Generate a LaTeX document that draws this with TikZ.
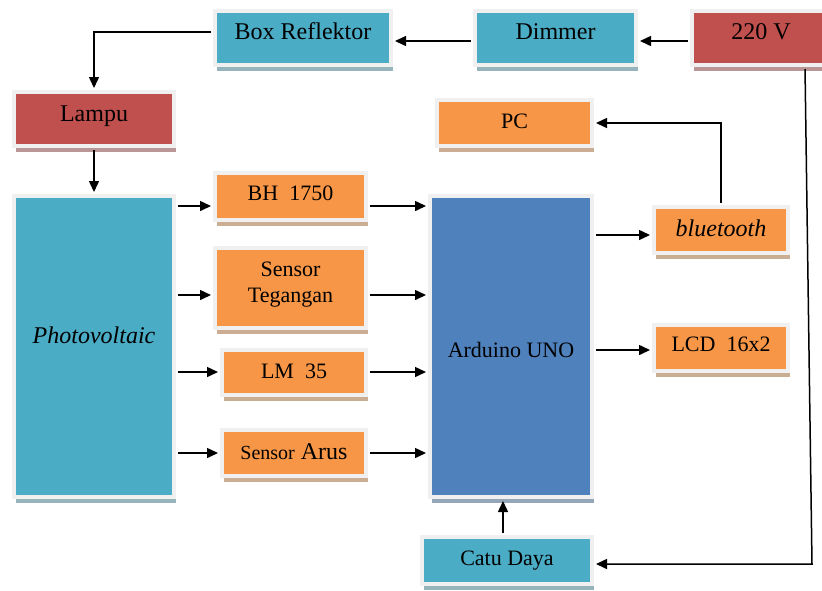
\documentclass[tikz,border=0pt]{standalone}
\usepackage{fontspec}
\setmainfont{Liberation Serif}
\usetikzlibrary{arrows.meta, positioning, shadows}

\definecolor{cyanblk}{HTML}{4BACC6}
\definecolor{redblk}{HTML}{C0504D}
\definecolor{orgblk}{HTML}{F79646}
\definecolor{blueblk}{HTML}{4F81BD}

% text lifted inside a box, without changing its size
\newcommand{\naik}[2]{\raisebox{#1}[0pt][0pt]{#2}}

\begin{document}
\begin{tikzpicture}[x=1pt, y=-1pt,
  blok/.style={draw=black!6, line width=4pt, fill=#1, inner sep=0pt, align=center,
    font=\fontsize{22}{25.7}\selectfont,
    drop shadow={shadow xshift=2pt, shadow yshift=-6pt, fill=#1!45!gray!70, opacity=1}},
  besar/.style={font=\fontsize{24}{27}\selectfont},
  panah/.style={-{Triangle[length=11pt, width=10pt]}, line width=1.5pt, black,
    shorten >=2pt, shorten <=2pt}]
  % Frame
  \clip (0,0) rectangle (822,590);

  % Top row: source, dimmer, reflector
  \node[blok=redblk, besar, minimum width=138pt, minimum height=54pt] (src) at (761,38) {\naik{-1.9pt}{220 V}};
  \node[blok=cyanblk, besar, minimum width=161pt, minimum height=54pt] (dimmer) at (555.5,38) {\naik{-1.9pt}{Dimmer}};
  \node[blok=cyanblk, besar, minimum width=176pt, minimum height=54pt] (refl) at (303,38) {\naik{-1.9pt}{Box Reflektor}};

  % Lamp and panel
  \node[blok=redblk, besar, minimum width=160pt, minimum height=54pt] (lampu) at (94,119) {\naik{-2.9pt}{Lampu}};
  \node[blok=cyanblk, besar, minimum width=160pt, minimum height=301pt] (pv) at (94,346.5)
       {\naik{3.1pt}{\textit{Photovoltaic}}};

  % Sensors
  \node[blok=orgblk, minimum width=151pt, minimum height=47pt] (bh) at (290.5,196.5) {\naik{-4.3pt}{BH\ \ 1750}};
  \node[blok=orgblk, minimum width=151pt, minimum height=80pt] (teg) at (290.5,288)
       {\naik{-14.2pt}{\begin{tabular}[b]{@{}c@{}}Sensor\\Tegangan\end{tabular}}};
  \node[blok=orgblk, minimum width=144pt, minimum height=45pt] (lm) at (294,372) {\naik{-6.3pt}{LM\ \ 35}};
  \node[blok=orgblk, besar, minimum width=144pt, minimum height=46pt] (arus) at (294,453)
       {\naik{-6.4pt}{{\fontsize{20}{24}\selectfont Sensor} Arus}};

  % Controller and outputs
  \node[blok=blueblk, minimum width=162pt, minimum height=301pt] (ard) at (511,346.5) {\naik{-11.3pt}{Arduino UNO}};
  \node[blok=orgblk, minimum width=155pt, minimum height=46pt] (pc) at (514.5,123) {\naik{-5.8pt}{PC}};
  \node[blok=orgblk, besar, minimum width=134pt, minimum height=46pt] (bt) at (721,230) {\naik{-6.2pt}{\textit{bluetooth}}};
  \node[blok=orgblk, minimum width=134pt, minimum height=46pt] (lcd) at (721,348) {\naik{-3.8pt}{LCD\ \ 16x2}};
  \node[blok=cyanblk, minimum width=170pt, minimum height=47pt] (catu) at (507,560.5) {\naik{-4.8pt}{Catu Daya}};

  % Power path
  \draw[panah] ([yshift=-3pt]src.west) -- ([yshift=-3pt]dimmer.east);
  \draw[panah] ([yshift=-3pt]dimmer.west) -- ([yshift=-3pt]refl.east);
  \draw[panah] ([yshift=6pt]refl.west) -| (lampu.north);
  \draw[panah] (lampu) -- (pv);

  % Panel to sensors
  \draw[panah] ([yshift=-9.5pt]bh.west -| pv.east) -- ([yshift=-9.5pt]bh.west);
  \draw[panah] ([yshift=-7pt]teg.west -| pv.east) -- ([yshift=-7pt]teg.west);
  \draw[panah] (lm.west -| pv.east) -- (lm.west);
  \draw[panah] (arus.west -| pv.east) -- (arus.west);

  % Sensors to Arduino
  \draw[panah] ([yshift=-9.5pt]bh.east) -- ([yshift=-9.5pt]bh.east -| ard.west);
  \draw[panah] ([yshift=-7pt]teg.east) -- ([yshift=-7pt]teg.east -| ard.west);
  \draw[panah] (lm.east) -- (lm.east -| ard.west);
  \draw[panah] (arus.east) -- (arus.east -| ard.west);

  % Outputs
  \draw[panah] ([yshift=-5pt]bt.west -| ard.east) -- ([yshift=-5pt]bt.west);
  \draw[panah] ([yshift=-2pt]lcd.west -| ard.east) -- ([yshift=-2pt]lcd.west);
  \draw[panah] (bt.north) |- (pc.east);
  \draw[panah] ([xshift=-4pt]catu.north) -- ([xshift=-4pt]catu.north |- ard.south);

  % Supply line to Catu Daya
  \coordinate (siku) at (812,564);
  \draw[panah] ([xshift=44pt]src.south) -- (siku) -- (siku -| catu.east);
\end{tikzpicture}
\end{document}
